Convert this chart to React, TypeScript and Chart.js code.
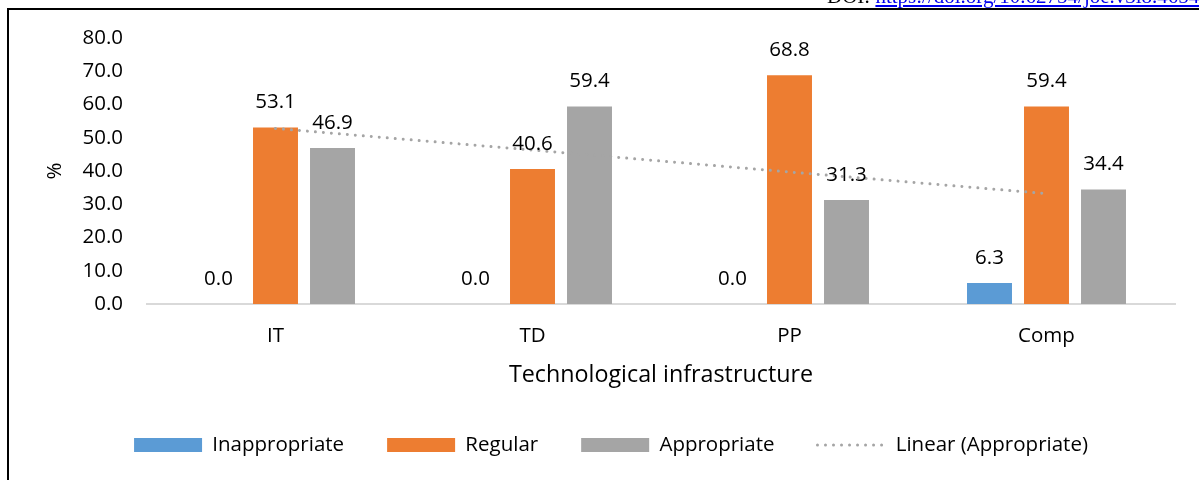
import React, { useEffect, useRef } from "react";
import { Chart, registerables } from "chart.js";

Chart.register(...registerables);

// ---- data ----
const categories = ["IT", "TD", "PP", "Comp"];
const inappropriate = [0.0, 0.0, 0.0, 6.3];
const regular = [53.1, 40.6, 68.8, 59.4];
const appropriate = [46.9, 59.4, 31.3, 34.4];
const linearAppropriate = [52.8, 46.3, 39.7, 33.2];
const seriesNames = ["Inappropriate", "Regular", "Appropriate", "Linear (Appropriate)"];
const yMin = 0;
const yMax = 80;
const yStep = 10;
const xTitle = "Technological infrastructure";
const yTitle = "%";

const FONT = "'Open Sans', sans-serif";
const FS = 20.5;
const TREND_DASH = [0.01, 8];

const valueLabels = {
  id: "valueLabels",
  afterDatasetsDraw(chart: any) {
    const ctx = chart.ctx;
    ctx.save();
    ctx.font = `${FS}px ${FONT}`;
    ctx.fillStyle = "#000";
    ctx.textAlign = "center";
    ctx.textBaseline = "middle";
    chart.data.datasets.forEach((ds: any, i: number) => {
      if (ds.type === "line") return;
      const meta = chart.getDatasetMeta(i);
      meta.data.forEach((el: any, j: number) => {
        ctx.fillText(Number(ds.data[j]).toFixed(1), el.x, el.y - 25);
      });
    });
    ctx.restore();
  },
};

export default function App() {
  const ref = useRef<HTMLCanvasElement>(null);

  useEffect(() => {
    if (!ref.current) return;
    Chart.defaults.font.family = FONT;
    Chart.defaults.color = "#000";
    const barCommon = {
      type: "bar" as const,
      categoryPercentage: 0.6654,
      barPercentage: 0.789,
      borderWidth: 0,
      pointStyle: "rect",
      order: 1,
    };
    const defaultLabels = Chart.defaults.plugins.legend.labels.generateLabels;
    const chart = new Chart(ref.current, {
      type: "bar",
      data: {
        labels: categories,
        datasets: [
          { ...barCommon, label: seriesNames[0], data: inappropriate, backgroundColor: "#5B9BD5" },
          { ...barCommon, label: seriesNames[1], data: regular, backgroundColor: "#ED7D31" },
          { ...barCommon, label: seriesNames[2], data: appropriate, backgroundColor: "#A5A5A5" },
          {
            type: "line" as const,
            label: seriesNames[3],
            data: linearAppropriate,
            borderColor: "#A5A5A5",
            backgroundColor: "#A5A5A5",
            borderWidth: 3,
            borderDash: TREND_DASH,
            borderCapStyle: "round",
            pointRadius: 0,
            pointHoverRadius: 0,
            pointStyle: "line",
            fill: false,
            tension: 0,
            order: 0,
          } as any,
        ],
      },
      options: {
        animation: false,
        responsive: false,
        maintainAspectRatio: false,
        layout: { padding: { left: 23, right: 0, top: 38, bottom: 14.75 } },
        plugins: {
          tooltip: { enabled: false },
          legend: {
            position: "bottom",
            labels: {
              usePointStyle: true,
              pointStyleWidth: 68,
              boxHeight: 14,
              padding: 43,
              color: "#000",
              font: { size: FS, family: FONT },
              sort: (a: any, b: any) => a.datasetIndex - b.datasetIndex,
              generateLabels: (c: any) => {
                const items = defaultLabels(c);
                items.forEach((it: any) => {
                  const ds = c.data.datasets[it.datasetIndex];
                  if (ds.type === "line") {
                    it.lineDash = TREND_DASH;
                    it.lineCap = "round";
                    it.lineWidth = 3;
                    it.strokeStyle = "#A5A5A5";
                    it.pointStyle = "line";
                  } else {
                    it.pointStyle = "rect";
                    it.lineWidth = 0;
                  }
                });
                return items;
              },
            },
          },
        },
        scales: {
          x: {
            grid: { display: false, drawTicks: false },
            border: { display: true, color: "#D9D9D9", width: 2 },
            ticks: { padding: 20, color: "#000", font: { size: FS } },
            title: {
              display: true,
              text: xTitle,
              color: "#000",
              font: { size: 23.3 },
              padding: { top: 0, bottom: 2 },
            },
            afterFit: (s: any) => {
              s.height = 87.75;
            },
          },
          y: {
            min: yMin,
            max: yMax,
            grid: { display: false, drawTicks: false },
            border: { display: false },
            ticks: {
              stepSize: yStep,
              padding: 24,
              color: "#000",
              font: { size: FS },
              callback: (v: any) => Number(v).toFixed(1),
            },
            title: {
              display: true,
              text: yTitle,
              color: "#000",
              font: { size: FS },
              padding: { top: 19.5, bottom: 0 },
            },
            afterFit: (s: any) => {
              s.width = 124;
            },
          },
          yRight: {
            position: "right",
            display: true,
            grid: { display: false, drawTicks: false },
            border: { display: false },
            ticks: { display: false },
            afterFit: (s: any) => {
              s.width = 24;
            },
          },
        },
      } as any,
      plugins: [valueLabels],
    });
    return () => chart.destroy();
  }, []);

  return (
    <div style={{ position: "fixed", left: 0, top: 0, width: 1199, height: 480, overflow: "hidden", background: "#fff" }}>
      <canvas ref={ref} width={1199} height={480} style={{ position: "absolute", left: 0, top: 0, width: 1199, height: 480 }} />
      <div
        style={{
          position: "absolute",
          left: 7,
          top: 8,
          width: 1300,
          height: 480,
          borderLeft: "2px solid #000",
          borderTop: "2px solid #000",
          pointerEvents: "none",
        }}
      />
      <div
        style={{
          position: "absolute",
          left: 827,
          top: -14,
          fontFamily: "'Liberation Serif', serif",
          fontSize: 21,
          lineHeight: "21px",
          whiteSpace: "nowrap",
          color: "#000",
        }}
      >
        DOI: <span style={{ color: "#0000EE", textDecoration: "underline" }}>https://doi.org/10.62754/joe.v3i8.4654</span>
      </div>
    </div>
  );
}
